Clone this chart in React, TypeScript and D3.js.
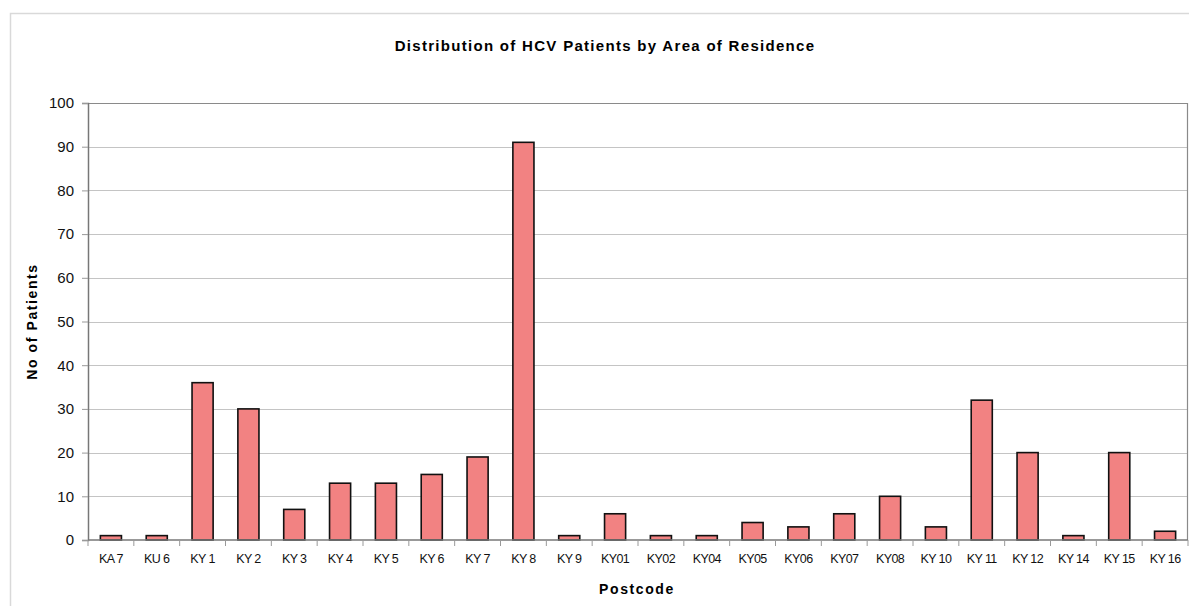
import { useEffect, useRef } from 'react';
import * as d3 from 'd3';

const postcodes = ['KA 7', 'KU 6', 'KY 1', 'KY 2', 'KY 3', 'KY 4', 'KY 5', 'KY 6', 'KY 7', 'KY 8', 'KY 9', 'KY01', 'KY02', 'KY04', 'KY05', 'KY06', 'KY07', 'KY08', 'KY 10', 'KY 11', 'KY 12', 'KY 14', 'KY 15', 'KY 16'];
const patients = [1, 1, 36, 30, 7, 13, 13, 15, 19, 91, 1, 6, 1, 1, 4, 3, 6, 10, 3, 32, 20, 1, 20, 2];
const yTicks = [0, 10, 20, 30, 40, 50, 60, 70, 80, 90, 100];

const [width, height] = [1189, 606];
const plot = { left: 88, right: 1188, top: 103, bottom: 540 };

function App() {
    const node = useRef<SVGSVGElement>(null);
    useEffect(() => {
        if (!node.current) return;
        const svg = d3.select(node.current);
        svg.selectAll('*').remove();

        const x = d3.scaleBand<string>().domain(postcodes).range([plot.left, plot.right]);
        const y = d3.scaleLinear().domain([0, 100]).range([plot.bottom, plot.top]);

        /** outer frame */
        svg.append('rect').attr('x', 10.5).attr('y', 13.5).attr('width', 1200).attr('height', 620)
            .attr('fill', 'white').attr('stroke', '#d9d9d9').attr('stroke-width', 1.5);

        /** title */
        svg.append('text').attr('x', 605).attr('y', 51).attr('text-anchor', 'middle')
            .style('font', 'bold 15px "Liberation Sans", Arial, sans-serif').style('letter-spacing', '1.3px')
            .text('Distribution of HCV Patients by Area of Residence');

        /** gridlines */
        svg.append('g').selectAll('line').data(yTicks.slice(1)).enter().append('line')
            .attr('x1', plot.left).attr('x2', plot.right)
            .attr('y1', d => Math.round(y(d)) + 0.5).attr('y2', d => Math.round(y(d)) + 0.5)
            .attr('stroke', '#c4c4c4').attr('stroke-width', 1);

        /** plot frame top/right */
        svg.append('path')
            .attr('d', `M${plot.left},${plot.top + 0.5}H${plot.right - 0.5}V${plot.bottom}`)
            .attr('fill', 'none').attr('stroke', '#8a8a8a').attr('stroke-width', 1.2);

        /** bars */
        const bw = x.bandwidth() * 0.46;
        svg.append('g').selectAll('rect').data(patients).enter().append('rect')
            .attr('x', (d, i) => (x(postcodes[i]) as number) + (x.bandwidth() - bw) / 2)
            .attr('y', d => y(d))
            .attr('width', bw)
            .attr('height', d => plot.bottom - y(d))
            .attr('fill', '#f28282').attr('stroke', '#111').attr('stroke-width', 1.6);

        /** axes */
        const yAxis = svg.append('g').attr('transform', `translate(${plot.left},0)`)
            .call(d3.axisLeft(y).tickValues(yTicks).tickSize(6).tickPadding(8));
        yAxis.select('.domain').attr('stroke', '#777').attr('stroke-width', 1.5);
        yAxis.selectAll('.tick line').attr('stroke', '#999');
        yAxis.selectAll('text').style('font', '15px "Liberation Sans", Arial, sans-serif').attr('fill', '#111');

        const bounds = postcodes.map(p => x(p) as number).concat([plot.right]);
        const xg = svg.append('g');
        xg.append('line').attr('x1', plot.left).attr('x2', plot.right)
            .attr('y1', plot.bottom).attr('y2', plot.bottom).attr('stroke', '#777').attr('stroke-width', 1.5);
        xg.selectAll('line.tk').data(bounds).enter().append('line').attr('class', 'tk')
            .attr('x1', d => d).attr('x2', d => d).attr('y1', plot.bottom).attr('y2', plot.bottom + 6)
            .attr('stroke', '#999');
        xg.selectAll('text').data(postcodes).enter().append('text')
            .attr('x', d => (x(d) as number) + x.bandwidth() / 2)
            .attr('y', plot.bottom + 23)
            .attr('text-anchor', 'middle')
            .style('font', '12.5px "Liberation Sans", Arial, sans-serif').style('letter-spacing', '-0.6px')
            .attr('fill', '#111')
            .text(d => d);

        /** axis titles */
        svg.append('text').attr('x', 637).attr('y', 594).attr('text-anchor', 'middle')
            .style('font', 'bold 14px "Liberation Sans", Arial, sans-serif').style('letter-spacing', '1.6px')
            .text('Postcode');
        svg.append('text').attr('transform', `translate(37,${(plot.top + plot.bottom) / 2}) rotate(-90)`)
            .attr('text-anchor', 'middle')
            .style('font', 'bold 14px "Liberation Sans", Arial, sans-serif').style('letter-spacing', '1.6px')
            .text('No of Patients');
    }, [node]);

    return (
        <svg ref={node} width={width} height={height}
            style={{ position: 'absolute', left: 0, top: 0, background: 'white' }}></svg>
    );
}

export default App;
